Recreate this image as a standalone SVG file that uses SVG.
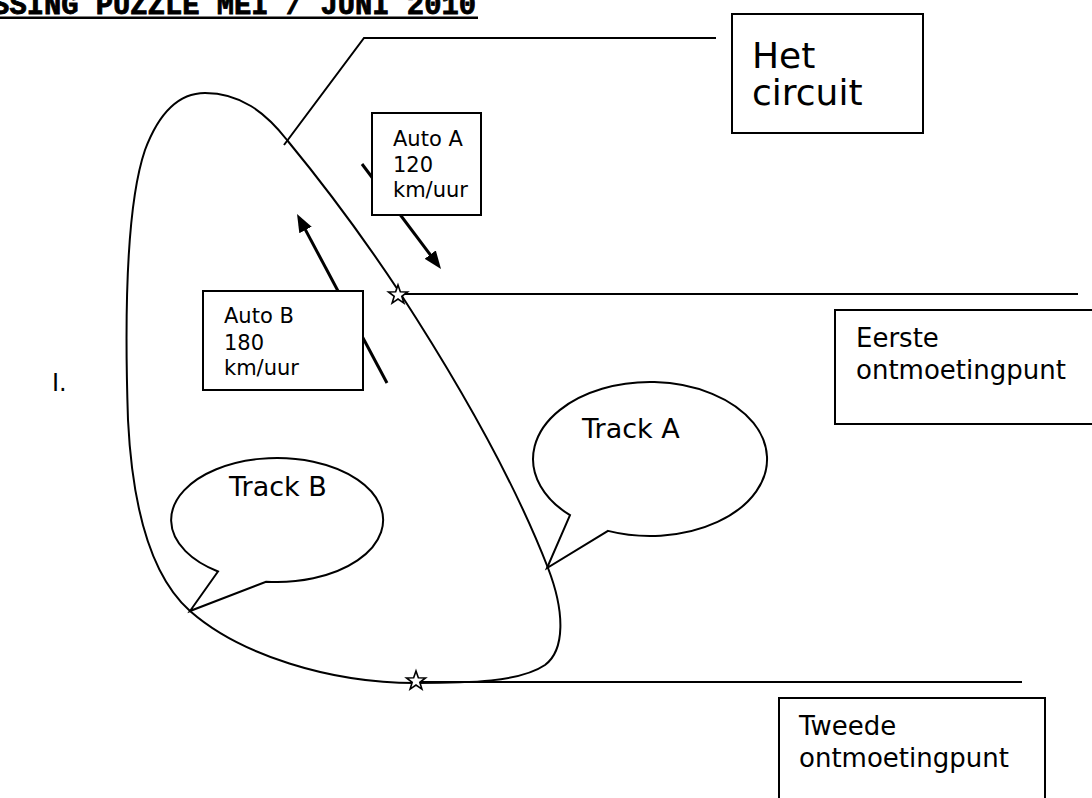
<svg xmlns="http://www.w3.org/2000/svg" width="1092" height="798" viewBox="0 0 1092 798">
<style>
.ln{fill:none;stroke:#000;stroke-width:2}
.box{fill:#fff;stroke:#000;stroke-width:2}
.t{font-family:"DejaVu Sans","Liberation Sans",sans-serif;fill:#000}
.arr{fill:none;stroke:#000;stroke-width:3}
.star{fill:#fff;stroke:#000;stroke-width:1.6;stroke-linejoin:miter}
</style>
<defs>
<marker id="ah" viewBox="0 0 18 14" refX="10" refY="7" markerWidth="18" markerHeight="14" markerUnits="userSpaceOnUse" orient="auto">
<path d="M0,0 L18,7 L0,14 Z" fill="#000"/>
</marker>
<polygon id="starShape" points="0,-10 2.35,-3.24 9.51,-3.09 3.8,1.24 5.88,8.09 0,4 -5.88,8.09 -3.8,1.24 -9.51,-3.09 -2.35,-3.24"/>
</defs>
<rect width="1092" height="798" fill="#fff"/>

<g id="title">
<text x="476" y="14" text-anchor="end" font-family="'Liberation Mono','Courier New',monospace" font-weight="bold" font-size="28.8" stroke="#000" stroke-width="0.8">OPLOSSING PUZZLE MEI / JUNI 2010</text>
<rect x="0" y="16.5" width="478" height="2.5" fill="#000"/>
</g>

<g id="circuit">
<path class="ln" d="M205,93 C240,93 265,112 287,140 C320,180 365,240 400,293 C450,370 510,470 548,568 C565,612 565,650 545,665 C520,682 470,683 415,683 C330,683 240,655 190,611 C155,580 133,520 128,420 C124,300 128,200 145,150 C160,110 180,93 205,93 Z"/>
</g>

<g id="connectors">
<polyline class="ln" points="284,145 364,38 716,38"/>
<line class="arr" x1="387" y1="383" x2="300.8" y2="221.1" marker-end="url(#ah)"/>
<line class="arr" x1="362" y1="164" x2="436.2" y2="262.6" marker-end="url(#ah)"/>
<line class="ln" x1="404" y1="294" x2="1078" y2="294"/>
<line class="ln" x1="420" y1="682" x2="1022" y2="682"/>
</g>

<g id="het-circuit">
<rect class="box" x="732" y="14" width="191" height="119"/>
<text class="t" x="752" y="68" font-size="36">Het</text>
<text class="t" x="752" y="105" font-size="36">circuit</text>
</g>

<g id="auto-a">
<rect class="box" x="372" y="113" width="109" height="102"/>
<text class="t" x="393" y="146" font-size="21">Auto A</text>
<text class="t" x="393" y="172" font-size="21">120</text>
<text class="t" x="393" y="197" font-size="21">km/uur</text>
</g>

<g id="auto-b">
<rect class="box" x="203" y="291" width="160" height="99"/>
<text class="t" x="224" y="323" font-size="21">Auto B</text>
<text class="t" x="224" y="350" font-size="21">180</text>
<text class="t" x="224" y="375" font-size="21">km/uur</text>
</g>

<g id="eerste">
<rect class="box" x="835" y="310" width="270" height="114"/>
<text class="t" x="856" y="347" font-size="26">Eerste</text>
<text class="t" x="856" y="379" font-size="26">ontmoetingpunt</text>
</g>

<g id="tweede">
<rect class="box" x="779" y="698" width="266" height="110"/>
<text class="t" x="799" y="735" font-size="26">Tweede</text>
<text class="t" x="799" y="767" font-size="26">ontmoetingpunt</text>
</g>

<g id="track-a">
<path class="box" d="M570,515.2 L547,568 L608,530.9 A117 77 0 1 0 570,515.2 Z" stroke-linejoin="miter"/>
<text class="t" x="582" y="438" font-size="27">Track A</text>
</g>

<g id="track-b">
<path class="box" d="M218,571.5 L190,611 L266,581.7 A106 62 0 1 0 218,571.5 Z" stroke-linejoin="miter"/>
<text class="t" x="229" y="496" font-size="27">Track B</text>
</g>

<g id="star-1"><use href="#starShape" class="star" x="398" y="295"/></g>
<g id="star-2"><use href="#starShape" class="star" x="416" y="681"/></g>

<g id="label-i">
<text class="t" x="52" y="391" font-size="24">I.</text>
</g>
</svg>
